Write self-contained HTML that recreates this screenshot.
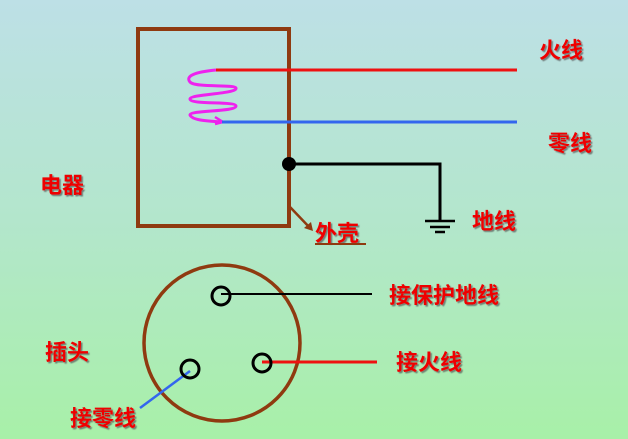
<!DOCTYPE html>
<html><head><meta charset="utf-8"><style>
body{margin:0;width:628px;height:439px;overflow:hidden;background:linear-gradient(#bde0e6 0%,#b3e6cc 50%,#a8f0a8 100%);}
svg{display:block}
text{font-family:"Liberation Sans","Noto Sans CJK SC",sans-serif;font-weight:bold;font-size:22px;fill:#ee0000;}
</style></head><body>
<svg width="628" height="439" viewBox="0 0 628 439">
<defs><filter id="s"><feDropShadow dx="1.5" dy="1.5" stdDeviation="0.5" flood-color="#555" flood-opacity="0.7"/></filter></defs>
<rect x="138" y="29" width="151" height="197" fill="none" stroke="#8f3a10" stroke-width="4"/>
<path d="M216,70 C195,72 185,76 190,82 C195,88 235,84 236,88 C238,94 190,94 190,99 C190,105 236,101 236,106 C236,112 190,110 190,115 C192,120 205,121 222,122" fill="none" stroke="#ee22ee" stroke-width="3"/>
<path d="M215,117 L223,122 L215,124" fill="none" stroke="#ee22ee" stroke-width="2.5"/>
<line x1="216" y1="70" x2="517" y2="70" stroke="#ee1111" stroke-width="3"/>
<line x1="222" y1="122" x2="517" y2="122" stroke="#3366ee" stroke-width="3"/>
<polyline points="289,164 440,164 440,221" fill="none" stroke="#000" stroke-width="3"/>
<circle cx="289" cy="164" r="7" fill="#000"/>
<line x1="425" y1="221" x2="455" y2="221" stroke="#000" stroke-width="2.5"/>
<line x1="430" y1="227" x2="450" y2="227" stroke="#000" stroke-width="2.5"/>
<line x1="435" y1="232" x2="445" y2="232" stroke="#000" stroke-width="2.5"/>
<line x1="290" y1="207" x2="311" y2="229" stroke="#8f3a10" stroke-width="2.5"/>
<path d="M304,228 L313,231 L311,222" fill="#8f3a10"/>
<circle cx="222" cy="343" r="78" fill="none" stroke="#8f3a10" stroke-width="3.5"/>
<line x1="221" y1="294" x2="372" y2="294" stroke="#000" stroke-width="2"/>
<line x1="262" y1="362" x2="377" y2="362" stroke="#ee1111" stroke-width="3"/>
<line x1="190" y1="371" x2="140" y2="408" stroke="#3366ee" stroke-width="2.5"/>
<circle cx="221" cy="296" r="9" fill="none" stroke="#000" stroke-width="3"/>
<circle cx="190" cy="369" r="9" fill="none" stroke="#000" stroke-width="3"/>
<circle cx="262" cy="363" r="9" fill="none" stroke="#000" stroke-width="3"/>
<g filter="url(#s)">
<text x="539" y="58">火线</text>
<text x="548" y="151">零线</text>
<text x="40" y="193">电器</text>
<text x="472" y="229">地线</text>
<text x="315" y="241">外壳</text>
<text x="389" y="303">接保护地线</text>
<text x="45" y="360">插头</text>
<text x="396" y="370">接火线</text>
<text x="70" y="426">接零线</text>
</g>
<line x1="315" y1="244" x2="366" y2="244" stroke="#8f3a10" stroke-width="2"/>
</svg>
</body></html>
